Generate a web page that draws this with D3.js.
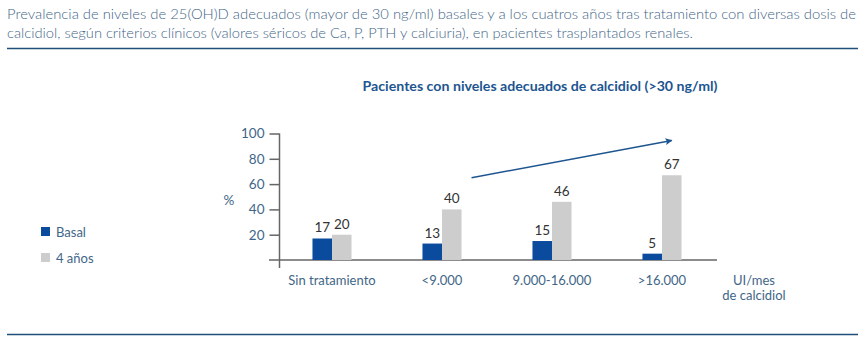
<!DOCTYPE html>
<html>
<head>
<meta charset="utf-8">
<script src="https://cdn.jsdelivr.net/npm/d3@7"></script>
<style>
  body { margin: 0; background: #fff; }
  svg { display: block; font-family: Lato, "Open Sans", "DejaVu Sans", sans-serif; }
</style>
</head>
<body>
<div id="chart"></div>
<script>
// dati
const categorie = ['Sin tratamiento', '<9.000', '9.000-16.000', '>16.000'];
const serieBasal = [17, 13, 15, 5];
const serieCuatro = [20, 40, 46, 67];
const nomiSerie = ['Basal', '4 años'];
const tickY = [20, 40, 60, 80, 100];
const titolo = [
  'Prevalencia de niveles de 25(OH)D adecuados (mayor de 30 ng/ml) basales y a los cuatros años tras tratamiento con diversas dosis de',
  'calcidiol, según criterios clínicos (valores séricos de Ca, P, PTH y calciuria), en pacientes trasplantados renales.'
];
const sottotitolo = 'Pacientes con niveles adecuados de calcidiol (>30 ng/ml)';
const unitaX = ['UI/mes', 'de calcidiol'];
// freccia di tendenza: da (categoria, valore) a (categoria, valore)
const freccia = [{ cat: '<9.000', v: 65 }, { cat: '>16.000', v: 94.5 }];

const width = 867, height = 344;
const colori = { basal: '#0b4b9e', cuatro: '#cdcdcd', testo: '#3f6688', blu: '#1d5590', asse: '#666' };

const svg = d3.select('#chart').append('svg')
  .attr('width', width)
  .attr('height', height);

// intestazione
svg.selectAll('.titolo')
  .data(titolo)
  .join('text')
  .attr('class', 'titolo')
  .attr('x', 7)
  .attr('y', (d, i) => 19 + i * 19)
  .attr('textLength', (d, i) => i === 0 ? 849 : 686)
  .attr('lengthAdjust', 'spacingAndGlyphs')
  .style('font-size', '14px')
  .style('font-weight', '300')
  .style('fill', colori.testo)
  .text(d => d);

svg.append('line')
  .attr('x1', 7).attr('x2', 858)
  .attr('y1', 48.5).attr('y2', 48.5)
  .attr('stroke', '#1f4f7a').attr('stroke-width', 1.5);

svg.append('line')
  .attr('x1', 7).attr('x2', 858)
  .attr('y1', 334.5).attr('y2', 334.5)
  .attr('stroke', '#1f4f7a').attr('stroke-width', 1.5);

// sottotitolo
svg.append('text')
  .attr('x', 540).attr('y', 91)
  .attr('text-anchor', 'middle')
  .attr('textLength', 355)
  .attr('lengthAdjust', 'spacingAndGlyphs')
  .style('font-size', '12.5px')
  .style('font-weight', '700')
  .style('fill', colori.blu)
  .text(sottotitolo);

// scale
const x = d3.scaleBand()
  .domain(categorie)
  .range([277, 717])
  .paddingInner(0.645)
  .paddingOuter(0.3225);

const x1 = d3.scaleBand()
  .domain(['basal', 'cuatro'])
  .range([0, x.bandwidth()]);

const y = d3.scaleLinear()
  .domain([0, 100])
  .range([260, 133.5]);

const axisX = 279.5;

// asse y
const gy = svg.append('g')
  .attr('transform', `translate(${axisX},0)`)
  .call(d3.axisLeft(y).tickValues(tickY).tickSize(10).tickPadding(5));
gy.select('.domain')
  .attr('d', `M0,${y(100)}V${y(0) + 8}`)
  .attr('stroke', colori.asse).attr('stroke-width', 1.5);
gy.selectAll('.tick line').attr('stroke', colori.asse).attr('stroke-width', 1.5);
gy.selectAll('.tick text')
  .style('font-size', '13.5px')
  .style('font-family', 'Lato, "Open Sans", sans-serif')
  .style('fill', colori.testo);

// linea di base
svg.append('line')
  .attr('x1', 269).attr('x2', x.range()[1])
  .attr('y1', y(0)).attr('y2', y(0))
  .attr('stroke', colori.asse).attr('stroke-width', 1.5);

svg.append('text')
  .attr('x', 229).attr('y', 205)
  .attr('text-anchor', 'middle')
  .style('font-size', '13.5px')
  .style('fill', colori.testo)
  .text('%');

// etichette categorie
svg.selectAll('.cat')
  .data(categorie)
  .join('text')
  .attr('class', 'cat')
  .attr('x', d => x(d) + x.bandwidth() / 2)
  .attr('y', 285)
  .attr('text-anchor', 'middle')
  .style('font-size', '13px')
  .style('fill', colori.testo)
  .text(d => d);

svg.append('text')
  .attr('text-anchor', 'middle')
  .style('font-size', '13px')
  .style('fill', colori.testo)
  .selectAll('tspan')
  .data(unitaX)
  .join('tspan')
  .attr('x', 754)
  .attr('y', (d, i) => 285 + i * 15)
  .text(d => d);

// barre
const righe = categorie.map((c, i) => ({ cat: c, basal: serieBasal[i], cuatro: serieCuatro[i] }));

const gruppi = svg.selectAll('.gruppo')
  .data(righe)
  .join('g')
  .attr('class', 'gruppo')
  .attr('transform', d => `translate(${x(d.cat)},0)`);

gruppi.selectAll('rect')
  .data(d => ['basal', 'cuatro'].map(k => ({ k, v: d[k] })))
  .join('rect')
  .attr('x', d => x1(d.k))
  .attr('width', x1.bandwidth())
  .attr('y', d => y(d.v))
  .attr('height', d => y(0) - y(d.v))
  .attr('fill', d => colori[d.k]);

gruppi.selectAll('.val')
  .data(d => ['basal', 'cuatro'].map(k => ({ k, v: d[k] })))
  .join('text')
  .attr('class', 'val')
  .attr('x', d => x1(d.k) + x1.bandwidth() / 2)
  .attr('y', d => y(d.v) - 6)
  .attr('text-anchor', 'middle')
  .style('font-size', '13.5px')
  .style('fill', '#333')
  .text(d => d.v);

// freccia
svg.append('defs').append('marker')
  .attr('id', 'punta')
  .attr('viewBox', '0 0 10 10')
  .attr('refX', 9).attr('refY', 5)
  .attr('markerWidth', 11).attr('markerHeight', 7)
  .attr('markerUnits', 'userSpaceOnUse')
  .attr('orient', 'auto')
  .append('path')
  .attr('d', 'M0,0L10,5L0,10L2,5Z')
  .attr('fill', colori.blu);

svg.append('line')
  .attr('x1', x(freccia[0].cat) + x.bandwidth() + 10)
  .attr('y1', y(freccia[0].v))
  .attr('x2', x(freccia[1].cat) + x1('cuatro') + x1.bandwidth() / 2)
  .attr('y2', y(freccia[1].v))
  .attr('stroke', colori.blu)
  .attr('stroke-width', 1.5)
  .attr('marker-end', 'url(#punta)');

// legenda
const legenda = svg.append('g').attr('transform', 'translate(41,227)');
nomiSerie.forEach((n, i) => {
  const riga = legenda.append('g').attr('transform', `translate(0,${i * 26})`);
  riga.append('rect')
    .attr('width', 9).attr('height', 9)
    .attr('fill', i === 0 ? colori.basal : colori.cuatro);
  riga.append('text')
    .attr('x', 15).attr('y', 9.5)
    .style('font-size', '13px')
    .style('fill', colori.testo)
    .text(n);
});
</script>
</body>
</html>
